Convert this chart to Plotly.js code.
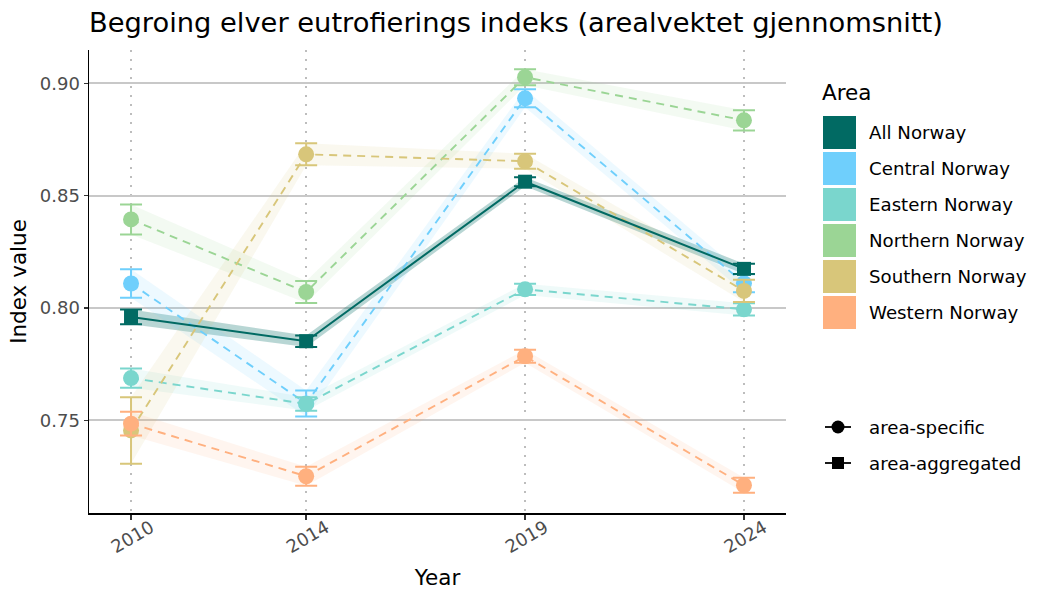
<!DOCTYPE html>
<html>
<head>
<meta charset="utf-8">
<script src="https://cdn.plot.ly/plotly-3.0.1.min.js"></script>
<style>html,body{margin:0;padding:0;background:#fff;}#chart{width:1050px;height:600px;}</style>
</head>
<body>
<div id="chart"></div>
<script>
// ---- data ----
var years = [2010, 2014, 2019, 2024];
var yearLabels = ["2010", "2014", "2019", "2024"];

var areas = ["All Norway", "Central Norway", "Eastern Norway", "Northern Norway", "Southern Norway", "Western Norway"];
var areaColors = ["#016A63", "#6FCFFC", "#7AD6CD", "#9BD595", "#D8C67A", "#FFB07F"];

var allNorway      = [0.7960, 0.7852, 0.8562, 0.8174];
var allNorwayErr   = [0.0033, 0.0026, 0.0020, 0.0023];
var central        = [0.8109, 0.7575, 0.8933, 0.8110];
var centralErr     = [0.0063, 0.0058, 0.0040, 0.0040];
var eastern        = [0.7688, 0.7573, 0.8083, 0.7994];
var easternErr     = [0.0043, 0.0030, 0.0025, 0.0027];
var northern       = [0.8394, 0.8071, 0.9027, 0.8835];
var northernErr    = [0.0067, 0.0049, 0.0036, 0.0045];
var southern       = [0.7455, 0.8684, 0.8653, 0.8076];
var southernErr    = [0.0148, 0.0049, 0.0033, 0.0050];
var western        = [0.7485, 0.7251, 0.7785, 0.7211];
var westernErr     = [0.0053, 0.0042, 0.0029, 0.0033];

var yTickVals = [0.75, 0.80, 0.85, 0.90];
var yTickText = ["0.75", "0.80", "0.85", "0.90"];
var markerLegend = ["area-specific", "area-aggregated"];

var values = [allNorway, central, eastern, northern, southern, western];
var errors = [allNorwayErr, centralErr, easternErr, northernErr, southernErr, westernErr];

// ---- helpers ----
function rgba(hex, a) {
  var r = parseInt(hex.substr(1,2),16), g = parseInt(hex.substr(3,2),16), b = parseInt(hex.substr(5,2),16);
  return "rgba(" + r + "," + g + "," + b + "," + a + ")";
}
var FONT = "DejaVu Sans, Verdana, sans-serif";
var W = 1050, H = 600, L = 89, R = 264, T = 50, B = 87;
var PW = W - L - R, PH = H - T - B;
function px(x) { return (x - L) / PW; }
function py(y) { return (H - B - y) / PH; }

var traces = [];
// ribbons
for (var i = 0; i < areas.length; i++) {
  var up = [], lo = [];
  for (var k = 0; k < years.length; k++) { up.push(values[i][k] + errors[i][k]); lo.push(values[i][k] - errors[i][k]); }
  traces.push({
    x: years.concat(years.slice().reverse()),
    y: up.concat(lo.slice().reverse()),
    type: "scatter", mode: "lines", fill: "toself",
    fillcolor: rgba(areaColors[i], i === 0 ? 0.28 : 0.12),
    line: {width: 0, color: "rgba(0,0,0,0)"},
    hoverinfo: "skip", showlegend: false
  });
}
// regional series (dashed, circles), then All Norway (solid, squares)
var order = [1, 2, 3, 4, 5, 0];
order.forEach(function (i) {
  var agg = (i === 0);
  traces.push({
    x: years, y: values[i], name: areas[i],
    type: "scatter", mode: "lines+markers",
    line: {color: areaColors[i], width: agg ? 2 : 1.9, dash: agg ? "solid" : "8px,6px"},
    marker: {color: areaColors[i], size: agg ? 14 : 16, symbol: agg ? "square" : "circle"},
    error_y: {type: "data", array: errors[i], visible: true, color: areaColors[i], thickness: 2, width: 11},
    showlegend: false
  });
});

// ---- custom legend ----
var shapes = [], annotations = [];
annotations.push({xref: "paper", yref: "paper", x: px(820), y: py(92), xanchor: "left", yanchor: "middle",
  text: "Area", showarrow: false, font: {family: FONT, size: 21.5, color: "#000"}});
for (var j = 0; j < areas.length; j++) {
  var y0 = 116 + 36 * j, y1 = y0 + 33;
  shapes.push({type: "rect", xref: "paper", yref: "paper", x0: px(823), x1: px(856), y0: py(y1), y1: py(y0),
    fillcolor: areaColors[j], line: {width: 0}});
  annotations.push({xref: "paper", yref: "paper", x: px(867), y: py((y0 + y1) / 2), xanchor: "left", yanchor: "middle",
    text: areas[j], showarrow: false, font: {family: FONT, size: 18.2, color: "#000"}});
}
// marker-type legend
shapes.push({type: "line", xref: "paper", yref: "paper", x0: px(825), x1: px(851), y0: py(427), y1: py(427), line: {color: "#000", width: 1.8}});
shapes.push({type: "circle", xref: "paper", yref: "paper", x0: px(831.5), x1: px(844.5), y0: py(433.5), y1: py(420.5), fillcolor: "#000", line: {width: 0}});
shapes.push({type: "line", xref: "paper", yref: "paper", x0: px(825), x1: px(851), y0: py(463), y1: py(463), line: {color: "#000", width: 1.8}});
shapes.push({type: "rect", xref: "paper", yref: "paper", x0: px(832), x1: px(844), y0: py(469), y1: py(457), fillcolor: "#000", line: {width: 0}});
annotations.push({xref: "paper", yref: "paper", x: px(867), y: py(427), xanchor: "left", yanchor: "middle",
  text: markerLegend[0], showarrow: false, font: {family: FONT, size: 18.2, color: "#000"}});
annotations.push({xref: "paper", yref: "paper", x: px(867), y: py(463), xanchor: "left", yanchor: "middle",
  text: markerLegend[1], showarrow: false, font: {family: FONT, size: 18.2, color: "#000"}});

var layout = {
  width: W, height: H,
  margin: {l: L, r: R, t: T, b: B, pad: 0},
  paper_bgcolor: "#fff", plot_bgcolor: "#fff",
  font: {family: FONT, color: "#000"},
  showlegend: false,
  title: {text: "Begroing elver eutrofierings indeks (arealvektet gjennomsnitt)",
    xref: "container", yref: "container", x: 89 / W, xanchor: "left", y: 1 - 22 / H, yanchor: "middle",
    font: {family: FONT, size: 27.3, color: "#000"}},
  xaxis: {
    range: [2009.04, 2024.96], tickmode: "array", tickvals: years, ticktext: yearLabels,
    tickangle: -30, ticks: "outside", ticklen: 5, tickwidth: 1.5, tickcolor: "#333",
    ticklabelshift: 20, ticklabelstandoff: -9,
    tickfont: {family: FONT, size: 18, color: "#4d4d4d"},
    showline: true, linecolor: "#000", linewidth: 1.5,
    showgrid: true, gridcolor: "#bdbdbd", gridwidth: 1.5, griddash: "2px,7px",
    zeroline: false,
    title: {text: "Year", font: {family: FONT, size: 21.5, color: "#000"}, standoff: 13}
  },
  yaxis: {
    range: [0.70874, 0.91482], tickmode: "array", tickvals: yTickVals, ticktext: yTickText,
    ticks: "outside", ticklen: 4, tickwidth: 1.5, tickcolor: "#333",
    tickfont: {family: FONT, size: 18, color: "#4d4d4d"},
    showline: true, linecolor: "#000", linewidth: 1.5,
    showgrid: true, gridcolor: "#c8c8c8", gridwidth: 2,
    zeroline: false,
    title: {text: "Index value", font: {family: FONT, size: 21.5, color: "#000"}, standoff: 7}
  },
  shapes: shapes,
  annotations: annotations
};

Plotly.newPlot("chart", traces, layout, {displayModeBar: false, staticPlot: true});
</script>
</body>
</html>
